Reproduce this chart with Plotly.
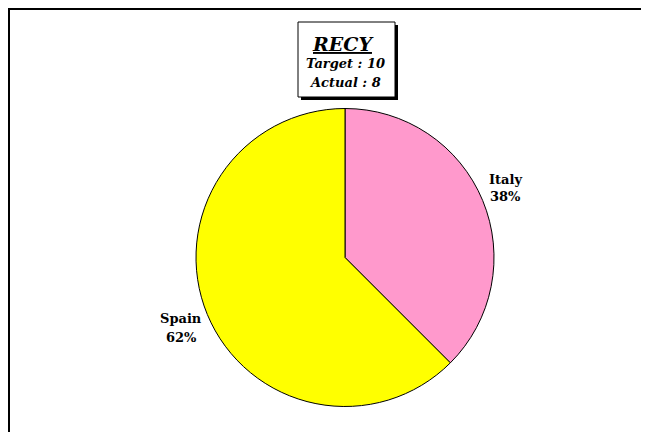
import plotly.graph_objects as go

labels = ["Italy", "Spain"]
values = [3, 5]
colors = ["#FF99CC", "#FFFF00"]
title_name = "RECY"
target = 10
actual = 8

OFF = 8  # page body margin
W, H = 649 - OFF, 432 - OFF

def px(x):
    return (x - OFF) / W

def py(y):
    return 1 - (y - OFF) / H

total = sum(values)
pcts = [round(v / total * 100) for v in values]

fig = go.Figure(go.Pie(
    labels=labels, values=values, sort=False, direction="clockwise", rotation=0,
    marker=dict(colors=colors, line=dict(color="black", width=1)),
    textinfo="none", hoverinfo="label+percent", showlegend=False,
    domain=dict(x=[px(196), px(494)], y=[py(407), py(108)]),
))

shapes = [
    dict(type="rect", xref="paper", yref="paper", x0=px(9), x1=px(700), y0=py(500), y1=py(9),
         line=dict(color="black", width=2), fillcolor="rgba(0,0,0,0)", layer="below"),
    dict(type="rect", xref="paper", yref="paper", x0=px(301), x1=px(398), y0=py(100), y1=py(25),
         line=dict(width=0), fillcolor="black", layer="above"),
    dict(type="rect", xref="paper", yref="paper", x0=px(298), x1=px(395), y0=py(97), y1=py(22),
         line=dict(color="black", width=1), fillcolor="white", layer="above"),
]

font_fam = "DejaVu Serif"

def ann(x, y, text, size):
    return dict(xref="paper", yref="paper", x=px(x), y=py(y), xanchor="center", yanchor="middle",
                showarrow=False, text=text, align="center",
                font=dict(family=font_fam, size=size, color="black"))

annotations = [
    ann(343, 44, f"<b><i><u>{title_name}</u></i></b>", 19),
    ann(345, 63, f"<b><i>Target : {target}</i></b>", 13),
    ann(345, 82, f"<b><i>Actual : {actual}</i></b>", 13),
    ann(505, 179, f"<b>{labels[0]}</b>", 13),
    ann(505, 197, f"<b>{pcts[0]}%</b>", 13),
    ann(181, 318, f"<b>{labels[1]}</b>", 13),
    ann(181, 337, f"<b>{pcts[1]}%</b>", 13),
]

fig.update_layout(
    width=W, height=H, margin=dict(l=0, r=0, t=0, b=0),
    paper_bgcolor="white", plot_bgcolor="white",
    shapes=shapes, annotations=annotations,
)

fig.write_html("out.html")
